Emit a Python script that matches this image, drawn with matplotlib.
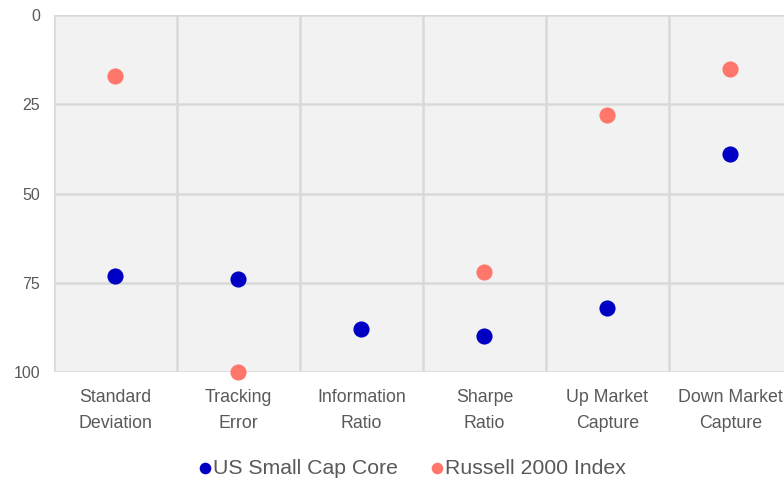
import matplotlib.pyplot as plt
import numpy as np

plt.rcParams['font.family'] = ['Liberation Sans', 'DejaVu Sans']

categories = ['Standard\nDeviation', 'Tracking\nError', 'Information\nRatio',
              'Sharpe\nRatio', 'Up Market\nCapture', 'Down Market\nCapture']
us_small_cap = [73, 74, 88, 90, 82, 39]
russell_2000 = [17, 100, None, 72, 28, 15]

blue = '#0000c4'
red = '#ff766a'
grid_c = '#d9d9d9'
text_c = '#595959'

fig = plt.figure(figsize=(7.84, 4.8), dpi=100)
ax = fig.add_axes([54/784, 108/480, 738/784, 357/480])
ax.set_facecolor('#f2f2f2')

x = np.arange(len(categories))
ax.scatter(x, us_small_cap, s=135, color=blue, zorder=3, clip_on=False,
           linewidths=0, label='US Small Cap Core')
rx = [i for i, v in zip(x, russell_2000) if v is not None]
ry = [v for v in russell_2000 if v is not None]
ax.scatter(rx, ry, s=135, color=red, zorder=3, clip_on=False,
           linewidths=0, label='Russell 2000 Index')

ax.set_xlim(-0.5, len(categories) - 0.5)
ax.set_ylim(100, 0)
ax.set_yticks([0, 25, 50, 75, 100])
ax.set_xticks(x)
ax.set_xticklabels(categories, linespacing=1.7)
ax.set_xticks(np.arange(-0.5, len(categories), 1), minor=True)

ax.grid(True, axis='y', which='major', color=grid_c, linewidth=1.8)
ax.grid(True, axis='x', which='minor', color=grid_c, linewidth=1.8)
ax.grid(False, axis='x', which='major')
ax.set_axisbelow(True)
for s in ax.spines.values():
    s.set_visible(False)

ax.tick_params(axis='both', which='both', length=0)
ax.tick_params(axis='x', which='major', labelsize=12.8, colors=text_c, pad=12)
ax.tick_params(axis='y', labelsize=11.5, colors=text_c, pad=10)

leg = fig.legend(loc='center', bbox_to_anchor=(410/784, 12/480), ncol=2,
                 frameon=False, fontsize=15.3, handletextpad=-0.1,
                 handlelength=1.0, columnspacing=1.3, markerscale=0.72)
for t in leg.get_texts():
    t.set_color(text_c)

fig.savefig('out.png', dpi=100)
